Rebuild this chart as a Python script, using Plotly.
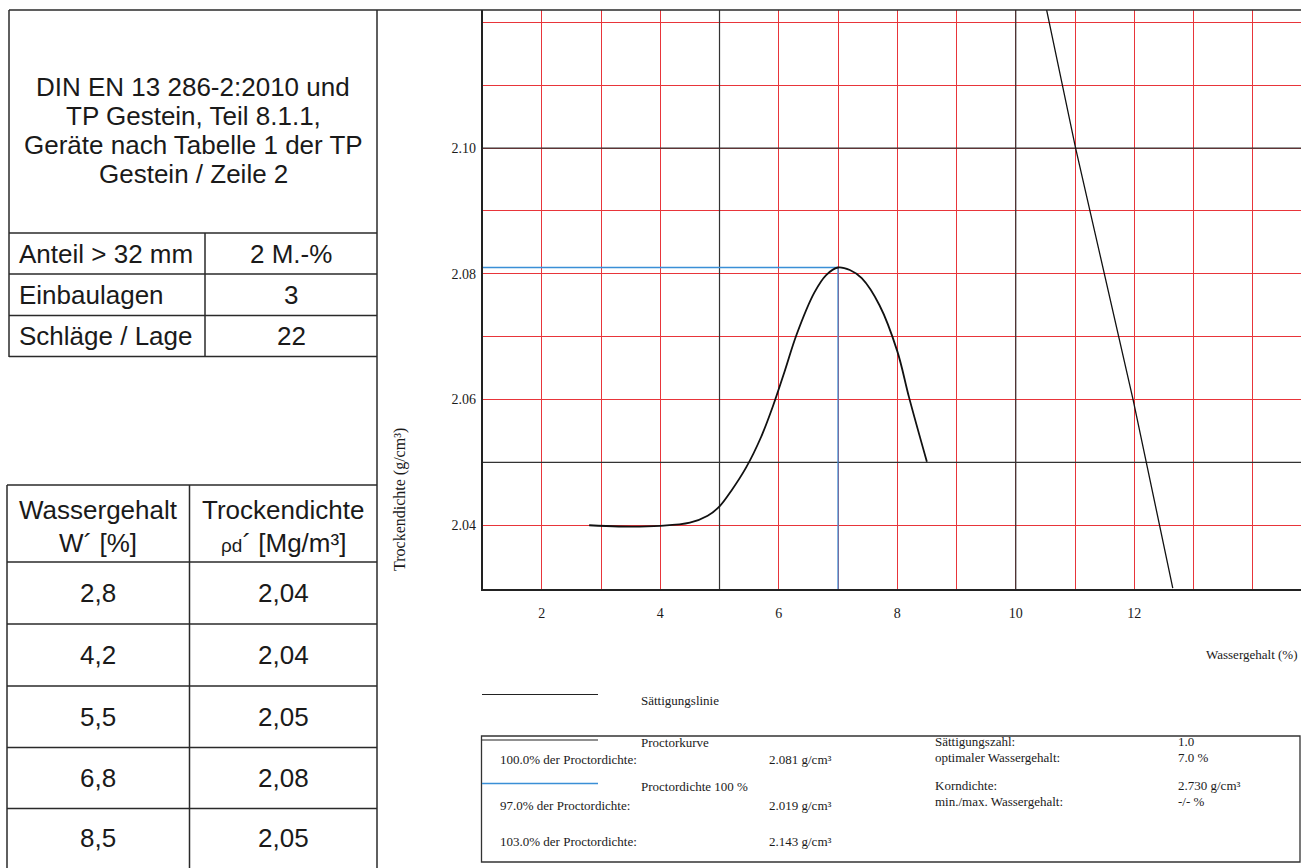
import plotly.graph_objects as go

# ---------------- data ----------------
# measured table values (Wassergehalt %, Trockendichte Mg/m3)
w_table = [2.8, 4.2, 5.5, 6.8, 8.5]
rho_table = [2.04, 2.04, 2.05, 2.08, 2.05]

# Proctor curve
curve_w = [2.8, 3.3, 4.0, 4.5, 4.8, 5.0, 5.2, 5.45, 5.7, 5.9, 6.1, 6.3, 6.6, 6.8, 7.0, 7.2, 7.4, 7.7, 8.0, 8.2, 8.5]
curve_rho = [2.0400, 2.0398, 2.0399, 2.0404, 2.0415, 2.0430, 2.0455, 2.0492, 2.0540, 2.0589, 2.0645,
             2.0703, 2.0770, 2.0798, 2.0810, 2.0806, 2.0793, 2.0750, 2.0677, 2.0603, 2.0501]

# Saturation line
sat_w = [10.52, 11.01, 11.98, 12.65]
sat_rho = [2.122, 2.100, 2.060, 2.030]

# optimum
opt_w = 7.0
proctor_density = 2.081

x_range = [1, 14.814]
y_range = [2.02986, 2.12196]
x_ticks = [2, 4, 6, 8, 10, 12]
y_ticks = [2.04, 2.06, 2.08, 2.10]
x_grid = list(range(1, 15))
y_grid = [2.03, 2.04, 2.05, 2.06, 2.07, 2.08, 2.09, 2.10, 2.11, 2.12]
x_major = [5, 10]
y_major = [2.05, 2.10]

header_lines = ["DIN EN 13 286-2:2010 und", "TP Gestein, Teil 8.1.1,",
                "Geräte nach Tabelle 1 der TP", "Gestein / Zeile 2"]
param_labels = ["Anteil > 32 mm", "Einbaulagen", "Schläge / Lage"]
param_values = ["2 M.-%", "3", "22"]

legend_left = [("100.0% der Proctordichte:", "2.081 g/cm³"),
               ("97.0% der Proctordichte:", "2.019 g/cm³"),
               ("103.0% der Proctordichte:", "2.143 g/cm³")]
legend_right = [("Sättigungszahl:", "1.0"), ("optimaler Wassergehalt:", "7.0 %"),
                ("Korndichte:", "2.730 g/cm³"), ("min./max. Wassergehalt:", "-/- %")]

# ---------------- layout helpers ----------------
W, H = 1301, 868
RED = "#e8353a"
BLUE = "#3a8fd6"
INK = "#1a1a1a"
GRID_DARK = "#333333"
SANS = "Liberation Sans, Arial, sans-serif"
SERIF = "Liberation Serif, Times New Roman, serif"


def px(x):
    return x / W


def py(y):
    return 1 - y / H


shapes = []
annotations = []


def pline(x0, y0, x1, y1, color="#2a2a2a", width=1.5):
    shapes.append(dict(type="line", xref="paper", yref="paper",
                       x0=px(x0), y0=py(y0), x1=px(x1), y1=py(y1),
                       line=dict(color=color, width=width), layer="above"))


def ptext(text, x, y, size, family, xanchor="left", color=INK):
    annotations.append(dict(text=text, xref="paper", yref="paper", x=px(x), y=py(y),
                            xanchor=xanchor, yanchor="middle", showarrow=False,
                            font=dict(size=size, family=family, color=color)))


# ---------------- left tables ----------------
pline(9, 10, 1301, 10)            # top line
pline(377, 10, 377, 868)          # right border of tables
pline(9, 10, 9, 357)              # top table left border
for yy in [233, 274, 315.5, 356.5]:
    pline(9, yy, 377, yy)
pline(205, 233, 205, 356.5)

header_y = [87, 116, 145, 174]
for t, yy in zip(header_lines, header_y):
    ptext(t, 193, yy, 26, SANS, "center")
row_y = [254, 295, 336]
for lab, val, yy in zip(param_labels, param_values, row_y):
    ptext(lab, 17, yy, 26, SANS, "left")
    ptext(val, 291, yy, 26, SANS, "center")

# lower table
low_lines = [485, 562, 624, 686, 747.5, 808.5]
for yy in low_lines:
    pline(7, yy, 377, yy)
pline(7, 485, 7, 868)
pline(189.5, 485, 189.5, 868)
ptext("Wassergehalt", 98, 510, 26, SANS, "center")
ptext("W´ [%]", 98, 543, 26, SANS, "center")
ptext("Trockendichte", 283, 510, 26, SANS, "center")
ptext("<span style='font-size:19px'>ρd</span>´ [Mg/m³]", 283, 543, 26, SANS, "center")
for i, (w, r) in enumerate(zip(w_table, rho_table)):
    yy = (low_lines[i + 1] + (low_lines[i + 2] if i + 2 < len(low_lines) else 868)) / 2
    ptext(f"{w:.1f}".replace(".", ","), 98, yy, 26, SANS, "center")
    ptext(f"{r:.2f}".replace(".", ","), 283, yy, 26, SANS, "center")

# ---------------- legend block ----------------
pline(482, 694.5, 598, 694.5, "#222", 1.2)
ptext("Sättigungslinie", 639, 700, 13, SERIF)
shapes.append(dict(type="rect", xref="paper", yref="paper", x0=px(481.5), y0=py(862),
                   x1=px(1300), y1=py(736), line=dict(color="#333", width=1.3)))
pline(482, 740, 598, 740, "#222", 1.2)
ptext("Proctorkurve", 639, 742, 13, SERIF)
pline(482, 783.5, 598, 783.5, BLUE, 1.3)
ptext("Proctordichte 100 %", 639, 786, 13, SERIF)
for (lab, val), yy in zip(legend_left, [759.5, 805.5, 841.5]):
    ptext(lab, 498, yy, 13, SERIF)
    ptext(val, 767, yy, 13, SERIF)
for (lab, val), yy in zip(legend_right, [741, 757, 785, 801.5]):
    ptext(lab, 933, yy, 13, SERIF)
    ptext(val, 1176, yy, 13, SERIF)

# axis titles
ptext("Wassergehalt (%)", 1299, 654, 13, SERIF, "right")
annotations.append(dict(text="Trockendichte (g/cm³)", xref="paper", yref="paper",
                        x=px(400), y=py(500), textangle=-90, showarrow=False,
                        xanchor="center", yanchor="middle",
                        font=dict(size=16, family=SERIF, color=INK)))

# ---------------- traces ----------------
fig = go.Figure()
# dark major grid lines (every 5 % and every 0.05 g/cm3)
for xv in x_major:
    fig.add_trace(go.Scatter(x=[xv, xv], y=y_range, mode="lines", cliponaxis=True,
                             line=dict(color=GRID_DARK, width=1.2), showlegend=False, hoverinfo="skip"))
for yv in y_major:
    fig.add_trace(go.Scatter(x=x_range, y=[yv, yv], mode="lines", cliponaxis=True,
                             line=dict(color=GRID_DARK, width=1.2), showlegend=False, hoverinfo="skip"))

fig.add_trace(go.Scatter(x=[x_range[0], opt_w], y=[proctor_density, proctor_density], mode="lines",
                         line=dict(color=BLUE, width=1.3), showlegend=False, hoverinfo="skip"))
fig.add_trace(go.Scatter(x=[opt_w, opt_w], y=[y_range[0], proctor_density], mode="lines",
                         line=dict(color=BLUE, width=1.3), showlegend=False, hoverinfo="skip"))
fig.add_trace(go.Scatter(x=curve_w, y=curve_rho, mode="lines", line_shape="spline",
                         line=dict(color="#111", width=1.8), name="Proctorkurve", showlegend=False))
fig.add_trace(go.Scatter(x=sat_w, y=sat_rho, mode="lines",
                         line=dict(color="#111", width=1.3), name="Sättigungslinie", showlegend=False))

x_text = [str(v) if v in x_ticks else "" for v in x_grid]
y_text = [f"{v:.2f}" if any(abs(v - t) < 1e-9 for t in y_ticks) else "" for v in y_grid]

fig.update_layout(
    width=W, height=H, margin=dict(l=0, r=0, t=0, b=0),
    paper_bgcolor="white", plot_bgcolor="white",
    shapes=shapes, annotations=annotations,
    xaxis=dict(domain=[482.5 / W, 1.0], range=x_range, tickmode="array",
               tickvals=x_grid, ticktext=x_text, showgrid=True, gridcolor=RED, gridwidth=1,
               zeroline=False, showline=True, linecolor="#222", linewidth=1.6, ticks="",
               ticklabelstandoff=10, tickfont=dict(family=SERIF, size=14, color=INK)),
    yaxis=dict(domain=[1 - 589 / H, 1 - 10 / H], range=y_range, tickmode="array",
               tickvals=y_grid, ticktext=y_text, showgrid=True, gridcolor=RED, gridwidth=1,
               zeroline=False, showline=True, linecolor="#222", linewidth=1.6, ticks="",
               ticklabelstandoff=2, tickfont=dict(family=SERIF, size=14, color=INK)),
    showlegend=False,
)

fig.write_html("out.html", config={"displayModeBar": False},
               post_script="document.body.style.margin='0';")
